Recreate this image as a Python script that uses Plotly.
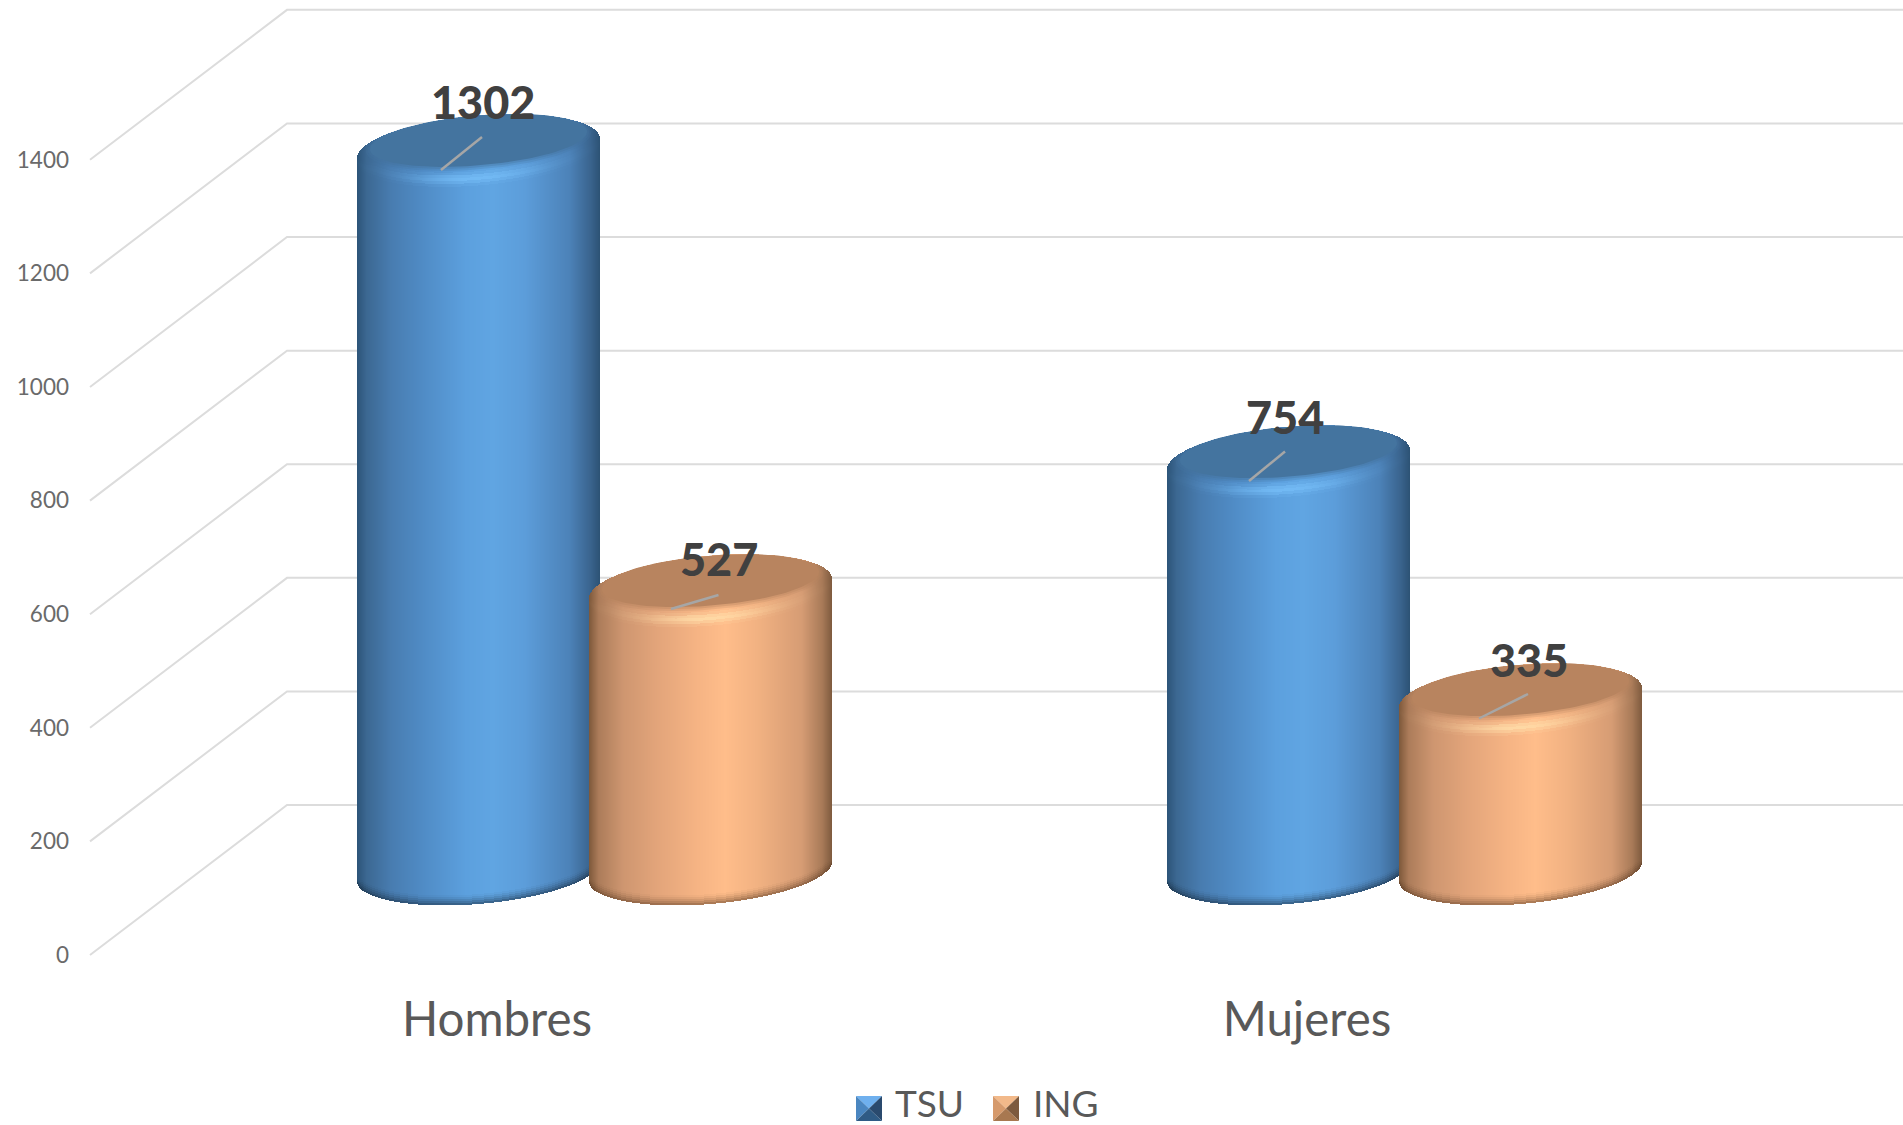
import numpy as np
import plotly.graph_objects as go

# ---------- data ----------
categories = ["Hombres", "Mujeres"]
series_names = ["TSU", "ING"]
tsu_values = [1302, 754]
ing_values = [527, 335]
y_ticks = [0, 200, 400, 600, 800, 1000, 1200, 1400]

# ---------- layout constants (pixels of the picture) ----------
W, H = 1903, 1125
PLOT_L, PLOT_B = 75, 985
CAT0_PX, CAT_STEP = 497, 810      # front-plane category positions
Y0_PX, PX_PER_VAL = 955, 0.568    # front-plane value scale
BACK_DX, BACK_DV = 197, 264       # depth of the back wall
GRID_FRONT_X = 90
FONT = "Lato"

def xu(px):
    return (px - CAT0_PX) / CAT_STEP

def yu(px):
    return (Y0_PX - px) / PX_PER_VAL

def pxx(px):
    return (px - PLOT_L) / (W - PLOT_L)

def pxy(py):
    return (PLOT_B - py) / PLOT_B

BAR_DEPTH_V = 118                 # the cylinders stand mid-way into the floor
SERIES_OFFSET = [-18.5, 213.5]    # px from category tick to cylinder centre
A, B, K = 121.5, 33.0, 0.08       # ellipse half-width, half-height, tilt
BOTTOM_CY = 871

BLUE = dict(
    stops=[(-1, (44, 84, 120)), (-0.92, (60, 104, 146)), (-0.72, (72, 124, 176)), (-0.45, (80, 140, 198)),
           (-0.1, (92, 160, 222)), (0.12, (96, 165, 226)), (0.38, (92, 157, 218)), (0.75, (76, 130, 184)),
           (0.92, (58, 100, 142)), (1, (44, 82, 116))],
    disc="#44749f", glow=(118, 190, 248), swatch=("#6fb0ee", "#4a86c0", "#2a4a6e", "#2f5b85"))
ORANGE = dict(
    stops=[(-1, (125, 88, 58)), (-0.92, (172, 124, 90)), (-0.72, (206, 150, 112)), (-0.45, (226, 164, 122)),
           (-0.1, (246, 180, 132)), (0.12, (255, 189, 138)), (0.38, (242, 178, 130)), (0.75, (214, 156, 116)),
           (0.92, (168, 122, 88)), (1, (126, 90, 62))],
    disc="#b8845f", glow=(255, 222, 170), swatch=("#f2b98a", "#d69a6c", "#7d5a3e", "#a87850"))
STYLES = [BLUE, ORANGE]

LABEL_DX = [[4, 8.5], [-4, 8]]         # label centre relative to cylinder centre
LABEL_DY = [[-46, -30], [-43, -38]]    # label centre relative to top centre
LEADER = [[((482, 137), (441, 170)), ((718.5, 595), (671, 609))],
          [((1285, 451.5), (1249, 481)), ((1528, 694), (1479, 718.5))]]


def mix(c1, c2, t):
    return tuple(c1[i] + (c2[i] - c1[i]) * t for i in range(3))


def rgb(c):
    return "rgb(%d,%d,%d)" % tuple(int(round(v)) for v in c)


def body_colour(style, u):
    us = [s[0] for s in style["stops"]]
    return tuple(np.interp(u, us, [s[1][i] for s in style["stops"]]) for i in range(3))


def cylinder_trace(style, name, cx, top_cy):
    xs, bases, heights, widths, colours = [], [], [], [], []

    def seg(dx, y_top, y_bottom, colour):
        if y_bottom <= y_top:
            return
        xs.append(xu(cx + dx))
        widths.append(1.0 / CAT_STEP)
        bases.append(yu(y_bottom))
        heights.append(yu(y_top) - yu(y_bottom))
        colours.append(rgb(colour))

    for dx in np.arange(-A + 0.5, A, 1.0):
        u = dx / A
        h = B * np.sqrt(max(0.0, 1 - u * u))
        c = body_colour(style, u)
        upper = top_cy - K * dx - h
        lower = top_cy - K * dx + h
        bottom = BOTTOM_CY - K * dx + h
        shade_px = 10.0 * min(1.0, h / 12.0 + 0.15)
        # body + rim
        seg(dx, upper, bottom - shade_px, c)
        # bevel glow at the front of the top rim
        inner_low = top_cy - 8 - K * dx + (B - 8) * np.sqrt(max(0.0, 1 - (dx / (A - 13)) ** 2))
        rim_top = max(inner_low, top_cy - K * dx)
        rim_bot = lower + 4
        n = 7
        for j in range(n):
            a0 = rim_top + (rim_bot - rim_top) * j / n
            a1 = rim_top + (rim_bot - rim_top) * (j + 1) / n
            t = (j + 0.5) / n
            w = np.exp(-((t - 0.62) / 0.24) ** 2) * np.exp(-((u + 0.03) / 0.48) ** 2)
            seg(dx, a0, a1, mix(c, style["glow"], 0.85 * w))
        # dark lower edge
        m = 5
        for j in range(m):
            b0 = bottom - shade_px * (1 - j / m)
            b1 = bottom - shade_px * (1 - (j + 1) / m)
            seg(dx, b0, b1, mix(c, (22, 40, 58) if style is BLUE else (92, 60, 36), 0.5 * ((j + 1) / m) ** 1.6))
    return go.Bar(x=xs, y=heights, base=bases, width=widths, name=name,
                  marker=dict(color=colours, line=dict(width=0)),
                  hoverinfo="skip", showlegend=False)


def disc_trace(colour, cx, top_cy, grow, opacity):
    # the disc shares its far edge with the cylinder's top; feathering grows towards the front only
    t = np.linspace(0, 2 * np.pi, 121)
    a, b = A - 13 + grow, B - 8 + grow * 0.5
    dx = a * np.cos(t)
    py = top_cy - 8 + grow * 0.5 - K * dx + b * np.sin(t)
    return go.Scatter(x=xu(cx + dx), y=yu(py), mode="lines", fill="toself",
                      fillcolor=colour, line=dict(width=0), opacity=opacity,
                      hoverinfo="skip", showlegend=False)


fig = go.Figure()

series_values = [tsu_values, ing_values]
for c in range(len(categories)):
    for s in range(len(series_names)):
        v = series_values[s][c]
        cx = CAT0_PX + c * CAT_STEP + SERIES_OFFSET[s]
        top_cy = Y0_PX - (v + BAR_DEPTH_V) * PX_PER_VAL
        fig.add_trace(cylinder_trace(STYLES[s], series_names[s], cx, top_cy))
        for grow, op in [(4, 0.25), (2, 0.35), (0, 1.0)]:
            fig.add_trace(disc_trace(STYLES[s]["disc"], cx, top_cy, grow, op))

# leader lines
for c in range(len(categories)):
    for s in range(len(series_names)):
        (x0, y0), (x1, y1) = LEADER[c][s]
        fig.add_trace(go.Scatter(x=[xu(x0), xu(x1)], y=[yu(y0), yu(y1)], mode="lines",
                                 line=dict(color="#a6a6a6", width=2.5),
                                 hoverinfo="skip", showlegend=False))

# gridlines: floor/wall edges behind the cylinders
shapes = []
for v in y_ticks:
    path = "M %f %f L %f %f L %f %f" % (
        xu(GRID_FRONT_X), v, xu(GRID_FRONT_X + BACK_DX), v + BACK_DV, xu(W), v + BACK_DV)
    shapes.append(dict(type="path", path=path, xref="x", yref="y", layer="below",
                       line=dict(color="#dcdcdc", width=2)))

# legend
LEG_X = [856, 993]
LEG_TXT_X = [893, 1031]
LEG_TOP, LEG_BOT, LEG_W = 1096, 1121, 26
annotations = []
for s, name in enumerate(series_names):
    x0, x1 = LEG_X[s], LEG_X[s] + LEG_W
    mx, my = (x0 + x1) / 2, (LEG_TOP + LEG_BOT) / 2
    corners = [[(x0, LEG_TOP), (x1, LEG_TOP)], [(x0, LEG_TOP), (x0, LEG_BOT)],
               [(x1, LEG_TOP), (x1, LEG_BOT)], [(x0, LEG_BOT), (x1, LEG_BOT)]]
    for (p, q), col in zip(corners, STYLES[s]["swatch"]):
        path = "M %f %f L %f %f L %f %f Z" % (pxx(p[0]), pxy(p[1]), pxx(q[0]), pxy(q[1]), pxx(mx), pxy(my))
        shapes.append(dict(type="path", path=path, xref="paper", yref="paper", layer="above",
                           fillcolor=col, line=dict(width=0)))
    annotations.append(dict(text=name, x=pxx(LEG_TXT_X[s]), y=pxy(1102.5), xref="paper", yref="paper",
                            xanchor="left", yanchor="middle", showarrow=False,
                            font=dict(family=FONT, size=37, color="#595959")))

# data labels
for c in range(len(categories)):
    for s in range(len(series_names)):
        v = series_values[s][c]
        cx = CAT0_PX + c * CAT_STEP + SERIES_OFFSET[s]
        top_cy = Y0_PX - (v + BAR_DEPTH_V) * PX_PER_VAL
        annotations.append(dict(text=str(v), x=xu(cx + LABEL_DX[c][s]), y=yu(top_cy + LABEL_DY[c][s]),
                                xref="x", yref="y", showarrow=False, xanchor="center", yanchor="middle",
                                font=dict(family=FONT, size=45, color="#404040", weight=900)))

fig.update_layout(
    width=W, height=H, autosize=False,
    margin=dict(l=PLOT_L, r=0, t=0, b=H - PLOT_B, pad=0),
    paper_bgcolor="white", plot_bgcolor="white",
    barmode="overlay", bargap=0, showlegend=False,
    shapes=shapes, annotations=annotations,
    xaxis=dict(range=[xu(PLOT_L), xu(W)], tickmode="array", tickvals=list(range(len(categories))),
               ticktext=categories, showgrid=False, zeroline=False, showline=False,
               ticks="", ticklabelstandoff=2,
               tickfont=dict(family=FONT, size=47.5, color="#595959")),
    yaxis=dict(range=[yu(PLOT_B), yu(0)], tickmode="array", tickvals=y_ticks,
               ticktext=[str(v) for v in y_ticks], showgrid=False, zeroline=False, showline=False,
               ticks="", ticklabelstandoff=5,
               tickfont=dict(family=FONT, size=22.5, color="#6a6a6a")),
)

fig.write_html("out.html", post_script="document.body.style.margin='0';",
               config={"displayModeBar": False})
